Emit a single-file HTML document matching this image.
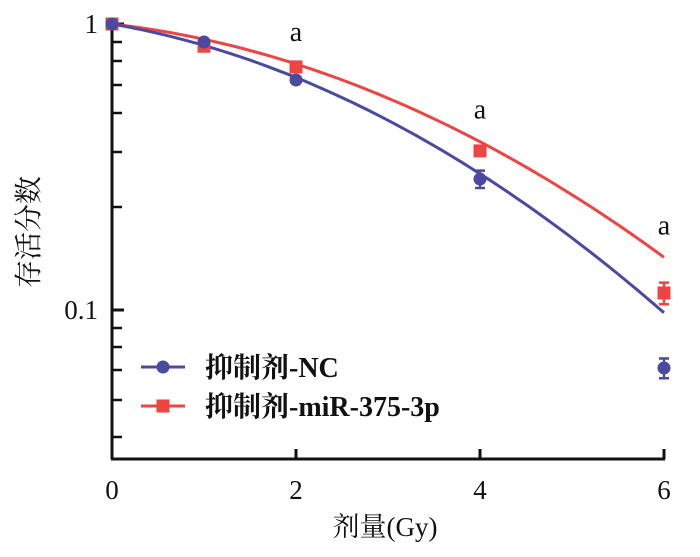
<!DOCTYPE html>
<html><head><meta charset="utf-8">
<style>
body{margin:0;background:#fff;}
svg text{font-family:"Liberation Serif","Noto Serif CJK SC","Noto Sans CJK SC",serif;fill:#111;}
</style></head>
<body>
<svg id="chart" width="700" height="552" xmlns="http://www.w3.org/2000/svg"></svg>
<script>
const doses=[0,1,2,4,6];
const ncValues=[1,0.865,0.637,0.287,0.0627];
const ncErr=[0,0.01,0.01,0.02,0.005];
const mirValues=[1,0.836,0.708,0.36,0.1147];
const mirErr=[0,0.01,0.01,0.01,0.01];
const ncFit=[0.1295,0.043];
const mirFit=[0.085,0.038];
const xTicks=[0,2,4,6];
const yTickLabels=["1","0.1"];
const yTickValues=[1,0.1];
const sigDoses=[2,4,6];

const svg=document.getElementById('chart');
const NS='http://www.w3.org/2000/svg';
const X0=112,PX=92,Y1=24,DEC=286,YB=459;
const xs=d=>X0+d*PX;
const ys=v=>Y1-Math.log10(v)*DEC;
function mk(t,a,p){const e=document.createElementNS(NS,t);for(const k in a)e.setAttribute(k,a[k]);(p||svg).appendChild(e);return e;}

let e=mk('line',{x1:X0,y1:18,x2:X0,y2:YB,stroke:'#111','stroke-width':3});


e=mk('line',{x1:X0-1,y1:YB,x2:xs(6)+1,y2:YB,stroke:'#111','stroke-width':3});


[42,61,85,113,152,207,328,347,370,400,437].forEach(y=>{
  const t=mk('line',{x1:X0,y1:y,x2:X0+10,y2:y,stroke:'#111','stroke-width':2.5});
  
  
});
yTickValues.forEach((v,i)=>{
  const t=mk('line',{x1:X0,y1:ys(v),x2:X0+12,y2:ys(v),stroke:'#111','stroke-width':3});
  
  
  const l=mk('text',{x:X0-14,y:ys(v)+9,'text-anchor':'end','font-size':27});
  l.textContent=yTickLabels[i];
  
  
});
xTicks.forEach(d=>{
  if(d>0){const t=mk('line',{x1:xs(d),y1:YB,x2:xs(d),y2:YB-10,stroke:'#111','stroke-width':3});
  
  }
  const l=mk('text',{x:xs(d),y:YB+40,'text-anchor':'middle','font-size':27});
  l.textContent=d;
  
  
});
e=mk('text',{x:385,y:536,'text-anchor':'middle','font-size':27});
e.textContent='剂量(Gy)';


e=mk('text',{x:0,y:0,'text-anchor':'middle','font-size':28,transform:'translate(38,232) rotate(-90)'});
e.textContent='存活分数';



function fitPath(p,color,name){
  let d='';
  for(let i=0;i<=60;i++){const D=i*0.1;const v=Math.exp(-p[0]*D-p[1]*D*D);d+=(i?'L':'M')+xs(D).toFixed(1)+' '+ys(v).toFixed(1);}
  const pa=mk('path',{d:d,fill:'none',stroke:color,'stroke-width':3});
  
  
}
fitPath(mirFit,'#ee4444','fit-curve-mir');
fitPath(ncFit,'#4a4aa0','fit-curve-nc');

function points(vals,errs,color,shape,name){
  vals.forEach((v,i)=>{
    const x=xs(doses[i]),y=ys(v);
    if(errs[i]>0){
      const yt=ys(v+errs[i]),yb=ys(Math.max(v-errs[i],0.001));
      const g=mk('path',{d:`M${x} ${yt}V${yb}M${x-5} ${yt}H${x+5}M${x-5} ${yb}H${x+5}`,stroke:color,'stroke-width':2.5,fill:'none'});
      
      
    }
    let m;
    if(shape==='c')m=mk('circle',{cx:x,cy:y,r:6.5,fill:color});
    else m=mk('rect',{x:x-6.5,y:y-6.5,width:13,height:13,fill:color});
    
    
  });
}
points(mirValues,mirErr,'#ee4444','s','mir');
points(ncValues,ncErr,'#4a4aa0','c','nc');

sigDoses.forEach(d=>{
  const i=doses.indexOf(d);
  const top=Math.max(mirValues[i],Math.exp(-mirFit[0]*d-mirFit[1]*d*d));
  const t=mk('text',{x:xs(d),y:ys(top)-23,'text-anchor':'middle','font-size':28});
  t.textContent='a';
  
  
});

function legend(y,color,shape,label,name){
  const g=mk('g',{});
  
  
  mk('line',{x1:141,y1:y,x2:185,y2:y,stroke:color,'stroke-width':3},g);
  if(shape==='c')mk('circle',{cx:163,cy:y,r:6.5,fill:color},g);
  else mk('rect',{x:156.5,y:y-6.5,width:13,height:13,fill:color},g);
  const t=mk('text',{x:205,y:y+10,'font-size':28,'font-weight':'bold'},g);
  t.textContent=label;
}
legend(367,'#4a4aa0','c','抑制剂-NC','legend-entry-nc');
legend(406,'#ee4444','s','抑制剂-miR-375-3p','legend-entry-mir');
</script>
</body></html>
